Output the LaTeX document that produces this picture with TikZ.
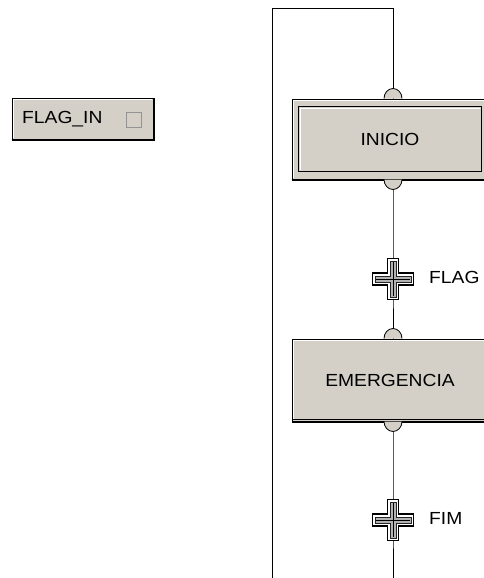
\documentclass[tikz,border=0pt]{standalone}
\usepackage{fontspec}
\setmainfont{Liberation Sans}
\usetikzlibrary{calc}
\definecolor{boxgray}{HTML}{D4D0C8}
\definecolor{shade}{HTML}{808080}
\newcommand\widetxt[1]{\scalebox{1.1}[1]{#1}}
\tikzset{
  boxfont/.style={font=\fontsize{17.5}{20}\selectfont},
  stepbox/.style={draw=black, line width=1pt, fill=boxgray, inner sep=0pt, boxfont},
  link/.style={draw=black, line width=1pt},
  port/.style={draw=black, line width=0.8pt, fill=boxgray},
  lbl/.style={boxfont, inner sep=0pt},
  trcross/.pic={
    \path[draw=black, line width=1.3pt, fill=white]
      (-5.5,-20.5) -- (5.5,-20.5) -- (5.5,-6) -- (20.5,-6) -- (20.5,6) -- (5.5,6)
      -- (5.5,20.5) -- (-5.5,20.5) -- (-5.5,6) -- (-20.5,6) -- (-20.5,-6) -- (-5.5,-6) -- cycle;
    \path[draw=black!85, line width=1pt, fill=shade!60]
      (-3,-18) -- (3,-18) -- (3,-3) -- (18,-3) -- (18,3) -- (3,3)
      -- (3,18) -- (-3,18) -- (-3,3) -- (-18,3) -- (-18,-3) -- (-3,-3) -- cycle;
    \draw[black, line width=1pt] (-17,0) -- (17,0) (0,-17) -- (0,17);
  }
}
\begin{document}
\begin{tikzpicture}[x=1pt,y=-1pt]
\useasboundingbox[fill=white] (0,0) rectangle (483,578);

% coordinates
\coordinate (t1) at (393,279);
\coordinate (t2) at (393,520);
\coordinate (loopbot) at (272,578);
\coordinate (looptop) at (272,9);
\coordinate (mainbot) at (393,578);

% boxes
\node[stepbox, minimum width=196pt, minimum height=80pt] (inicio) at (390,139) {};
\node[stepbox, minimum width=196pt, minimum height=82pt] (emerg) at (390,380) {};
\node[stepbox, minimum width=141pt, minimum height=41pt] (flagin) at (82.5,118.5) {};

% connectors
\draw[link] (loopbot) -- (looptop) -| (inicio.north -| t1);
\draw[link] (inicio.south -| t1) -- (t1) -- (emerg.north -| t1);
\draw[link] (emerg.south -| t1) -- (t2) -- (mainbot);

% INICIO decoration (double frame)
\draw[white, line width=1pt] ($(inicio.south west)+(1.5,-2)$) |- ($(inicio.north east)+(-2,1.5)$);
\draw[line width=2pt] (inicio.south west) -- (inicio.south east);
\draw[line width=1.8pt] ($(inicio.north west)+(7,8)$) rectangle ($(inicio.south east)+(-7,-8)$);
\draw[white, line width=1pt] ($(inicio.south west)+(9,-10)$) |- ($(inicio.north east)+(-9,10)$);
\node[lbl] (inicioT) at (inicio.center) {\widetxt{INICIO}};

% EMERGENCIA decoration
\draw[white, line width=1pt] ($(emerg.south west)+(1.5,-2)$) |- ($(emerg.north east)+(-2,1.5)$);
\draw[shade, line width=1pt] ($(emerg.south west)+(1.5,-2)$) -- ($(emerg.south east)+(-2,-2)$);
\draw[line width=2pt] (emerg.south west) -- (emerg.south east);
\node[lbl] (emergT) at (emerg.center) {\widetxt{EMERGENCIA}};

% FLAG_IN decoration
\draw[white, line width=1pt] ($(flagin.south west)+(1.5,-2)$) |- ($(flagin.north east)+(-2,1.5)$);
\draw[line width=2pt] (flagin.south west) -- (flagin.south east) -- (flagin.north east);
\node[lbl, anchor=base west] (flaginT) at (22,123) {\widetxt{FLAG\_IN}};
\draw[shade!85, line width=1pt, fill=boxgray] (126,112.5) rectangle (141.5,127);

% ports
\filldraw[port] ($(inicio.north -| t1)+(-9,0)$) arc[start angle=180, end angle=360, x radius=9, y radius=10];
\filldraw[port] ($(inicio.south -| t1)+(-9,0)$) arc[start angle=180, end angle=0, x radius=9, y radius=10];
\filldraw[port] ($(emerg.north -| t1)+(-9,0)$) arc[start angle=180, end angle=360, x radius=9, y radius=10];
\filldraw[port] ($(emerg.south -| t1)+(-9,0)$) arc[start angle=180, end angle=0, x radius=9, y radius=10];

% transitions
\pic at (t1) {trcross};
\pic at (t2) {trcross};
\node[lbl, anchor=west] (flagT) at ($(t1)+(36,-2)$) {\widetxt{FLAG}};
\node[lbl, anchor=west] (fimT) at ($(t2)+(36,-2)$) {\widetxt{FIM}};
\end{tikzpicture}
\end{document}
